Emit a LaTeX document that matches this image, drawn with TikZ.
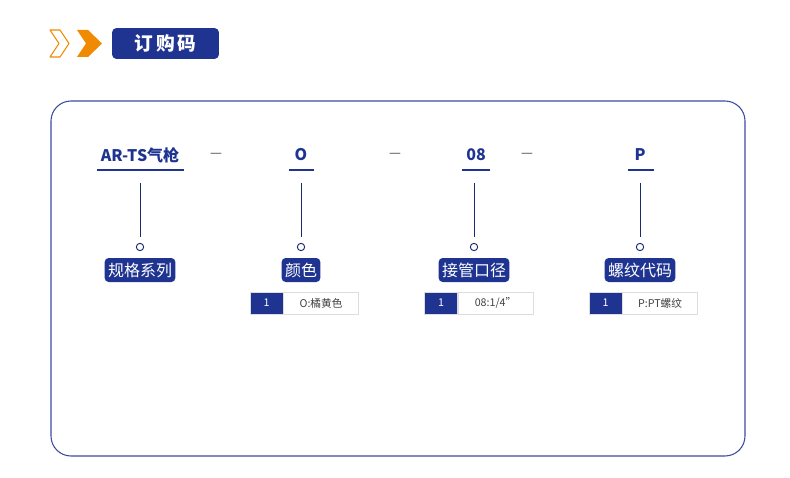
\documentclass[tikz,border=0pt]{standalone}
\usepackage{fontspec}
\setmainfont{Noto Sans CJK SC}
\usetikzlibrary{positioning}
\definecolor{navy}{HTML}{1F3490}
\definecolor{framec}{HTML}{3D4C9E}
\definecolor{orng}{HTML}{F08A00}
\definecolor{cellc}{HTML}{DDDDDD}
\tikzset{
  codelabel/.style={text=navy, font=\bfseries\fontsize{12}{14}\selectfont, inner sep=0pt},
  catbox/.style={fill=navy, text=white, rounded corners=3pt, font=\fontsize{12}{14}\selectfont, inner sep=2.5pt, minimum height=18pt},
  numcell/.style={fill=navy, text=white, draw=cellc, font=\fontsize{8}{10}\selectfont, minimum width=25pt, minimum height=16.5pt, inner sep=0pt},
  valcell/.style={draw=cellc, text=black!75, font=\fontsize{8}{10}\selectfont, minimum width=56pt, minimum height=16.5pt, inner sep=0pt},
  pin/.style={draw=navy!80!black, line width=0.7pt}
}
\begin{document}
\begin{tikzpicture}[x=0.75pt,y=-0.75pt]
  \useasboundingbox (0,0) rectangle (790,478);
  % header
  \draw[orng, line width=0.8pt, line join=round] (50,30) -- (60,30) -- (69,43.5) -- (60,57) -- (50,57) -- (59,43.5) -- cycle;
  \fill[orng] (77,30) -- (88,30) -- (102,43.5) -- (88,57) -- (77,57) -- (86,43.5) -- cycle;
  \node[fill=navy, text=white, rounded corners=3pt, minimum width=80pt, minimum height=23pt,
        font=\bfseries\fontsize{14}{16}\selectfont] (title) at (165.5,43.5) {订\,购\,码};
  % frame
  \draw[framec, line width=0.8pt, rounded corners=15pt] (51,101) rectangle (745,456);
  % code row
  \node[codelabel] (series) at (140,155) {AR-TS气枪};
  \node[codelabel] (color) at (301,155) {O};
  \node[codelabel] (port) at (476,155) {08};
  \node[codelabel] (thread) at (640,155) {P};
  \node[text=black!70] (d1) at (216,155) {—};
  \node[text=black!70] (d2) at (395,155) {—};
  \node[text=black!70] (d3) at (527,155) {—};
  \draw[navy, line width=2.2pt] (97,170) -- (184,170);
  \draw[navy, line width=2.2pt] (289,170) -- (314,170);
  \draw[navy, line width=2.2pt] (462,170) -- (490,170);
  \draw[navy, line width=2.2pt] (628,170) -- (654,170);
  % pins
  \foreach \px/\nm in {140/a,301/b,474/c,640/d}{
    \coordinate (top\nm) at (\px,183);
    \node[pin, circle, minimum size=5.5pt, inner sep=0pt] (ring\nm) at (\px,247) {};
    \draw[pin] (top\nm) -- (\px,237);
  }
  % categories
  \node[catbox] (catseries) at (140,270) {规格系列};
  \node[catbox] (catcolor) at (301,270) {颜色};
  \node[catbox] (catport) at (474,270) {接管口径};
  \node[catbox] (catthread) at (640,270) {螺纹代码};
  % tables
  \node[numcell] (n1) at (266.5,303) {1};
  \node[valcell, right=0pt of n1] (v1) {O:橘黄色};
  \node[numcell] (n2) at (441,303) {1};
  \node[valcell, right=0pt of n2] (v2) {08:1/4"};
  \node[numcell] (n3) at (605.5,303) {1};
  \node[valcell, right=0pt of n3] (v3) {P:PT螺纹};
\end{tikzpicture}
\end{document}
